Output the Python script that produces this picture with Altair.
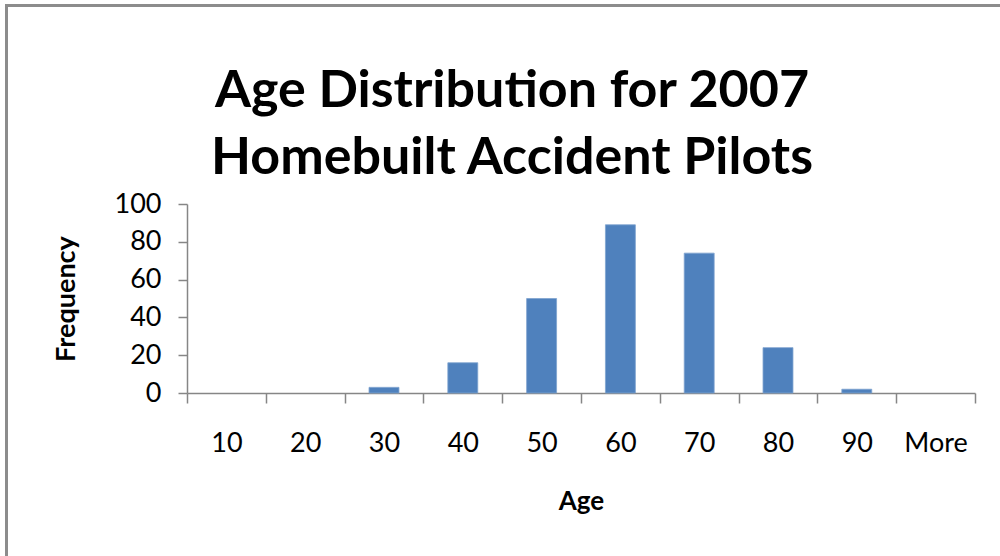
import altair as alt
import pandas as pd

categories = ["10", "20", "30", "40", "50", "60", "70", "80", "90", "More"]
frequency = [0, 0, 3, 16, 50, 89, 74, 24, 2, 0]
y_ticks = [0, 20, 40, 60, 80, 100]
title_lines = ["Age Distribution for 2007", "Homebuilt Accident Pilots"]

df = pd.DataFrame({"Age": categories, "Frequency": frequency})
df_bars = df[df["Frequency"] > 0]

AXIS_GRAY = "#868686"
FONT = "Lato"

bars = alt.Chart(df_bars).mark_bar(
    color="#4F81BD", stroke="#7FA3CF", strokeWidth=0.8, width={"band": 0.38}
).encode(
    x=alt.X(
        "Age:N",
        sort=categories,
        scale=alt.Scale(domain=categories, paddingInner=0, paddingOuter=0),
        axis=alt.Axis(
            title="Age",
            labelAngle=0,
            tickBand="extent",
            tickSize=10,
            tickColor=AXIS_GRAY,
            domainColor=AXIS_GRAY,
            tickWidth=1.5,
            domainWidth=1.5,
            labelFont=FONT,
            labelFontSize=27,
            labelColor="#000000",
            labelPadding=27,
            titleFont=FONT,
            titleFontSize=26,
            titleFontWeight="bold",
            titleColor="#000000",
            titleBaseline="alphabetic",
            titleY=116,
        ),
    ),
    y=alt.Y(
        "Frequency:Q",
        scale=alt.Scale(domain=[0, 100], nice=False),
        axis=alt.Axis(
            title="Frequency",
            values=y_ticks,
            grid=False,
            tickSize=9,
            tickColor=AXIS_GRAY,
            domainColor=AXIS_GRAY,
            tickWidth=1.5,
            domainWidth=1.5,
            labelFont=FONT,
            labelFontSize=27,
            labelColor="#000000",
            labelPadding=17,
            titleFont=FONT,
            titleFontSize=27,
            titleFontWeight="bold",
            titleColor="#000000",
            titleBaseline="alphabetic",
            titleAngle=-90,
            titleX=-113,
            titleY=94.5,
            titleAlign="center",
        ),
    ),
)

frame = alt.Chart(pd.DataFrame({"f": [0]})).mark_rect(
    fill=None, stroke="#8C8C8C", strokeWidth=3, clip=False
).encode(
    x=alt.value(-180.5),
    x2=alt.value(840),
    y=alt.value(-198.5),
    y2=alt.value(360),
)

chart = alt.layer(bars, frame).properties(
    width=788,
    height=189,
    padding={"left": 187, "top": 204, "right": 25, "bottom": 163},
    autosize=alt.AutoSizeParams(type="none"),
    background="white",
    title=alt.TitleParams(
        text=title_lines,
        font=FONT,
        fontSize=52,
        fontWeight="bold",
        color="#000000",
        anchor="middle",
        dx=-69,
        offset=0,
        dy=181,
        lineHeight=67,
    ),
).configure_view(stroke=None)

chart.save("out.html", embed_options={"renderer": "svg", "actions": False})
